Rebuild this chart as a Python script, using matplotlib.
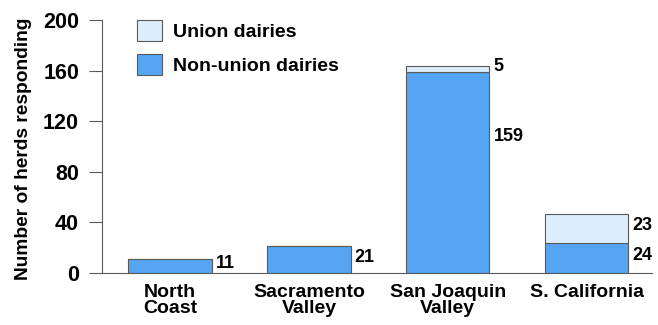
import numpy as np
import matplotlib.pyplot as plt

plt.rcParams['font.family'] = ['Liberation Sans', 'DejaVu Sans']
plt.rcParams['font.weight'] = 'bold'
plt.rcParams['axes.labelweight'] = 'bold'

regions = ["North\nCoast", "Sacramento\nValley", "San Joaquin\nValley", "S. California"]
non_union = [11, 21, 159, 24]
union = [0, 0, 5, 23]
yticks = [0, 40, 80, 120, 160, 200]

blue = "#56a5f2"
light = "#ddeefa"
edge = "#5a5a5a"

fig = plt.figure(figsize=(6.58, 3.25), dpi=100)
ax = fig.add_axes([102/658, 52/325, 550/658, 253/325])

x = np.arange(len(regions))
w = 0.6
b1 = ax.bar(x, non_union, w, color=blue, edgecolor=edge, linewidth=0.8, label="Non-union dairies")
b2 = ax.bar(x, union, w, bottom=non_union, color=light, edgecolor=edge, linewidth=0.8, label="Union dairies")

# value labels right of the bars
for i in range(len(regions)):
    xr = x[i] + w/2 + 0.03
    if non_union[i] > 100:
        ax.text(xr, non_union[i]*0.68, str(non_union[i]), va='center', ha='left', fontsize=13)
    else:
        ax.text(xr, non_union[i]/2 + 2, str(non_union[i]), va='center', ha='left', fontsize=13)
    if union[i] > 0:
        ax.text(xr, non_union[i] + union[i]/2 + 2, str(union[i]), va='center', ha='left', fontsize=13)

ax.set_xlim(-0.49, 3.47)
ax.set_ylim(0, 200)
ax.set_yticks(yticks)
ax.set_xticks(x)
ax.set_xticklabels(regions, fontsize=14, linespacing=0.9)
ax.tick_params(axis='x', length=0, pad=8)
ax.tick_params(axis='y', length=9.5, width=0.8, color=edge, labelsize=15.5, pad=7)
ax.spines['top'].set_visible(False)
ax.spines['right'].set_visible(False)
for s in ['left', 'bottom']:
    ax.spines[s].set_color(edge)
    ax.spines[s].set_linewidth(0.8)
ax.set_ylabel("Number of herds responding", fontsize=13.8)
ax.yaxis.set_label_coords(-0.127, 0.49)

ax.legend(handles=[b2, b1], loc='upper left', bbox_to_anchor=(0.064, 1.0), frameon=False,
          fontsize=14, handlelength=1.25, handleheight=1.25, handletextpad=0.6,
          labelspacing=0.7, borderpad=0, borderaxespad=0)

fig.savefig("out.png", dpi=100)
